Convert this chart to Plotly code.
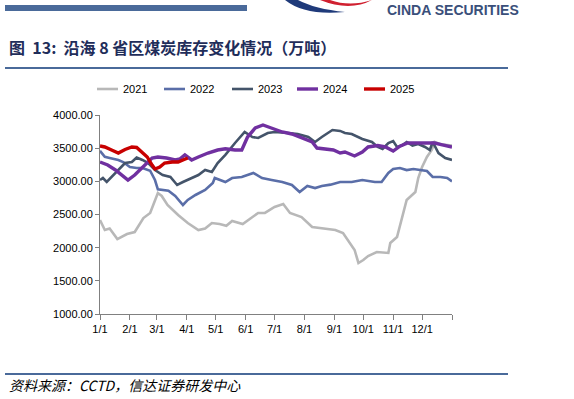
import plotly.graph_objects as go

# Day-of-year positions (0 = 1/1) and values (万吨)
d2021 = [0, 5, 10, 18, 28, 36, 45, 52, 60, 64, 70, 81, 91, 102, 109, 116, 124, 131, 137, 148, 164, 171, 181, 190, 197, 209, 220, 230, 244, 252, 259, 264, 268, 273, 278, 287, 299, 301, 308, 313, 318, 327, 330, 334, 339, 344, 347, 353, 365]
v2021 = [2417, 2266, 2290, 2130, 2206, 2236, 2447, 2523, 2824, 2780, 2643, 2492, 2372, 2266, 2290, 2372, 2357, 2330, 2402, 2357, 2523, 2523, 2613, 2658, 2523, 2462, 2312, 2297, 2266, 2221, 2070, 1965, 1769, 1814, 1874, 1935, 1920, 2070, 2161, 2462, 2719, 2839, 3050, 3216, 3367, 3472, 3593, 3560, 3540]

d2022 = [0, 5, 10, 19, 24, 31, 38, 44, 52, 57, 60, 66, 71, 78, 86, 91, 99, 109, 117, 119, 130, 137, 147, 159, 168, 178, 189, 199, 207, 215, 223, 230, 239, 249, 261, 272, 285, 292, 299, 304, 311, 318, 325, 332, 339, 345, 353, 360, 365]
v2022 = [3460, 3370, 3352, 3322, 3291, 3216, 3200, 3200, 3160, 3020, 2880, 2870, 2860, 2780, 2643, 2719, 2794, 2869, 2975, 3050, 2990, 3050, 3065, 3126, 3050, 3020, 2990, 2945, 2839, 2930, 2899, 2930, 2950, 2990, 2990, 3020, 2990, 2990, 3126, 3186, 3201, 3170, 3186, 3170, 3155, 3065, 3065, 3050, 3000]

d2023 = [0, 3, 7, 12, 19, 26, 33, 38, 44, 50, 57, 65, 73, 80, 86, 95, 102, 109, 116, 122, 130, 140, 150, 158, 164, 174, 181, 195, 205, 216, 223, 230, 241, 249, 254, 261, 272, 282, 288, 293, 299, 304, 308, 313, 318, 324, 330, 337, 342, 345, 351, 358, 365]
v2023 = [3020, 3050, 2990, 3065, 3171, 3276, 3292, 3360, 3322, 3276, 3171, 3095, 3065, 2945, 2990, 3050, 3095, 3171, 3140, 3276, 3400, 3578, 3744, 3668, 3654, 3729, 3744, 3729, 3714, 3668, 3593, 3668, 3774, 3760, 3729, 3714, 3638, 3593, 3518, 3488, 3578, 3608, 3518, 3540, 3593, 3540, 3563, 3518, 3472, 3593, 3427, 3352, 3322]

d2024 = [0, 8, 16, 23, 29, 36, 44, 49, 54, 60, 69, 78, 83, 88, 95, 102, 112, 122, 130, 140, 147, 153, 161, 169, 178, 189, 199, 209, 220, 225, 233, 242, 249, 254, 264, 272, 278, 288, 296, 304, 311, 319, 330, 340, 347, 355, 365]
v2024 = [3291, 3246, 3171, 3095, 3020, 3095, 3216, 3276, 3352, 3367, 3352, 3322, 3340, 3397, 3322, 3367, 3427, 3472, 3490, 3472, 3472, 3668, 3804, 3849, 3804, 3744, 3714, 3653, 3593, 3502, 3490, 3472, 3427, 3442, 3382, 3442, 3518, 3540, 3518, 3457, 3530, 3578, 3578, 3578, 3578, 3550, 3518]

d2025 = [0, 5, 12, 19, 26, 33, 38, 44, 49, 54, 57, 62, 67, 75, 81, 86, 91]
v2025 = [3533, 3518, 3472, 3427, 3480, 3518, 3510, 3427, 3367, 3246, 3186, 3216, 3276, 3291, 3291, 3322, 3352]

series_names = ["2021", "2022", "2023", "2024", "2025"]
month_days = [0, 31, 59, 90, 120, 151, 181, 212, 243, 273, 304, 334, 365]
month_labels = ["1/1", "2/1", "3/1", "4/1", "5/1", "6/1", "7/1", "8/1", "9/1", "10/1", "11/1", "12/1", ""]
y_ticks = [1000, 1500, 2000, 2500, 3000, 3500, 4000]

colors = ["#B8B8B8", "#5A6EA8", "#44546A", "#7030A0", "#C80000"]
widths = [2.6, 2.6, 2.6, 3.4, 3.4]

fig = go.Figure()
for name, xs, ys, c, w in zip(series_names, [d2021, d2022, d2023, d2024, d2025],
                              [v2021, v2022, v2023, v2024, v2025], colors, widths):
    fig.add_trace(go.Scatter(x=xs, y=ys, name=name, mode="lines",
                             line=dict(color=c, width=w), showlegend=False))

W, H = 574, 399
L, R, T, B = 100, 122, 115, 85
PW, PH = W - L - R, H - T - B


def px(x, y):
    return (x - L) / PW, 1 + (T - y) / PH


fig.update_layout(
    width=W, height=H,
    margin=dict(l=L, r=R, t=T, b=B, autoexpand=False),
    paper_bgcolor="white", plot_bgcolor="white",
    font=dict(family="Liberation Sans, Arial", size=11, color="#000000"),
    showlegend=False,
    xaxis=dict(range=[0, 365], tickmode="array", tickvals=month_days, ticktext=month_labels,
               showgrid=False, zeroline=False, showline=True, linecolor="#808080", linewidth=1,
               ticks="outside", ticklen=5, tickcolor="#808080", tickfont=dict(size=11)),
    yaxis=dict(range=[1000, 4000], tickmode="array", tickvals=y_ticks,
               ticktext=[f"{v:.2f}" for v in y_ticks],
               showgrid=False, zeroline=False, showline=True, linecolor="#808080", linewidth=1,
               ticks="outside", ticklen=4, tickcolor="#808080", tickfont=dict(size=11)),
)

# manual legend
leg_x = [97, 164, 232, 297, 364]
for name, c, w, lx0 in zip(series_names, colors, widths, leg_x):
    x0, y0 = px(lx0, 89)
    x1, _ = px(lx0 + 21, 89)
    fig.add_shape(type="line", xref="paper", yref="paper", x0=x0, x1=x1, y0=y0, y1=y0,
                  line=dict(color=c, width=w))
    tx0, _ = px(lx0 + 24, 89)
    fig.add_annotation(text=name, xref="paper", yref="paper", x=tx0, y=y0,
                       xanchor="left", yanchor="middle", showarrow=False,
                       font=dict(size=11, color="#000000"))

# header bar
bx0, by1 = px(5, 5)
bx1, by0 = px(247, 11)
fig.add_shape(type="rect", xref="paper", yref="paper", x0=bx0, x1=bx1, y0=by0, y1=by1,
              fillcolor="#4A6A9A", line=dict(width=0))
# logo swooshes (partially visible at top)
p = lambda x, y: "%.4f %.4f" % px(x, y)
fig.add_shape(type="path", xref="paper", yref="paper",
              path="M %s Q %s %s Q %s %s Z" % (p(285, 0), p(305, 16), p(345, 12), p(315, 9), p(298, 0)),
              fillcolor="#1F3A7A", line=dict(width=0))
fig.add_shape(type="path", xref="paper", yref="paper",
              path="M %s Q %s %s Q %s %s Z" % (p(320, 0), p(350, 12), p(372, 0), p(350, 7), p(330, 0)),
              fillcolor="#D02030", line=dict(width=0))

# title underline and footer line
for ypx in (68, 374):
    x0, yp = px(5, ypx)
    x1, _ = px(508, ypx)
    fig.add_shape(type="line", xref="paper", yref="paper", x0=x0, x1=x1, y0=yp, y1=yp,
                  line=dict(color="#4A6A9A", width=2))

tx, ty = px(7, 47)
fig.add_annotation(text="<b>图  13:  沿海 8 省区煤炭库存变化情况（万吨）</b>", xref="paper", yref="paper",
                   x=tx, y=ty, xanchor="left", yanchor="middle", showarrow=False,
                   font=dict(family="Noto Sans CJK SC", size=16, color="#1F2D5A"))
sx, sy = px(7, 385)
fig.add_annotation(text="<i>资料来源：CCTD，信达证券研发中心</i>", xref="paper", yref="paper",
                   x=sx, y=sy, xanchor="left", yanchor="middle", showarrow=False,
                   font=dict(family="Noto Sans CJK SC", size=14, color="#000000"))
lx, ly = px(385, 0)
fig.add_annotation(text="<b>CINDA SECURITIES</b>", xref="paper", yref="paper",
                   x=lx, y=ly, xanchor="left", yanchor="top", showarrow=False,
                   font=dict(family="Liberation Sans", size=14, color="#3A4F7A"))

fig.write_html("out.html", config={"displayModeBar": False},
               post_script="document.body.style.margin='0';")
